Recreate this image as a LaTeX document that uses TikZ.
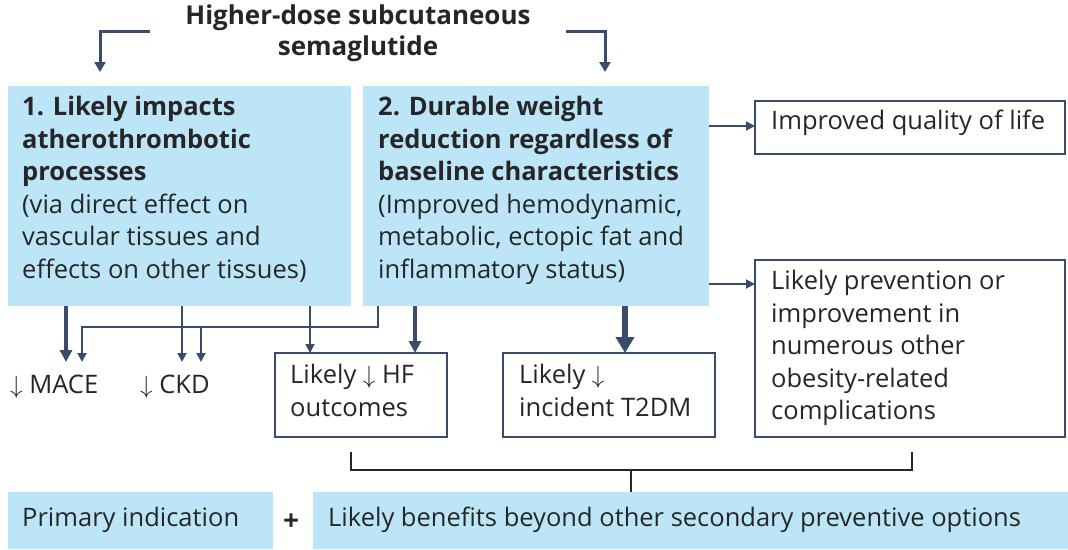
\documentclass[tikz,border=0pt]{standalone}
\usepackage{fontspec}
\setmainfont{Open Sans}
\usetikzlibrary{arrows.meta}
\definecolor{lb}{HTML}{BDE5F8}
\definecolor{dk}{HTML}{3B4B6B}
\begin{document}
\begin{tikzpicture}[x=1pt,y=-1pt,
 blue/.style={fill=lb,draw=none,inner sep=0pt},
 wbox/.style={draw=dk,line width=1.6pt,fill=white},
 txt/.style={font=\fontsize{25.5}{32.5}\selectfont,align=left,anchor=north west,inner sep=0pt,text=black!85},
 ln/.style={draw=dk,line width=1.8pt},
 ar/.style={ln,-{Triangle[length=9pt,width=9pt]}},
 tar/.style={draw=dk,line width=4pt,-{Triangle[length=12pt,width=12pt]}},
 ttar/.style={draw=dk,line width=6pt,-{Triangle[length=16pt,width=18pt]}}]
\useasboundingbox (0,0) rectangle (1068,549);
\node[font=\fontsize{26}{31}\selectfont\bfseries,align=center,text=black!85] (title) at (358,33) {Higher-dose subcutaneous\\semaglutide};
\coordinate (tl) at (150,31); \coordinate (tr) at (566,31);
\draw[ln,line width=3pt,-{Triangle[length=10pt,width=11pt]}] (tl) -| (100,72);
\draw[ln,line width=3pt,-{Triangle[length=10pt,width=11pt]}] (tr) -| (605,72);
\path[blue] (8,86) rectangle (351,306);
\path[blue] (363,86) rectangle (709,306);
\node[txt] at (22,96) {\textbf{1. Likely impacts}\\\textbf{atherothrombotic}\\\textbf{processes}\\(via direct effect on\\vascular tissues and\\effects on other tissues)};
\node[txt] at (378,96) {\textbf{2. Durable weight}\\\textbf{reduction regardless of}\\\textbf{baseline characteristics}\\(Improved hemodynamic,\\metabolic, ectopic fat and\\inflammatory status)};
\path[wbox] (755,101) rectangle (1065,154);
\node[txt] (ql) at (771,110) {Improved quality of life};
\path[wbox] (755,260) rectangle (1065,437);
\node[txt] (lp) at (771,270) {Likely prevention or\\improvement in\\numerous other\\obesity-related\\complications};
\path[wbox] (275,353) rectangle (447,437);
\node[txt] (hf) at (290,364) {Likely $\downarrow$ HF\\outcomes};
\path[wbox] (503,353) rectangle (715,437);
\node[txt] (t2) at (519,364) {Likely $\downarrow$\\incident T2DM};
\node[txt] (mace) at (10,375) {$\downarrow$ MACE};
\node[txt] (ckd) at (140,375) {$\downarrow$ CKD};
\draw[ar] (709,126) -- (755,126);
\draw[ar] (709,284) -- (755,284);
\draw[tar] (66,306) -- (66,362);
\draw[ar] (378,306) -- (378,327) -- (82,327) -- (82,362);
\draw[ar] (182,306) -- (182,362);
\draw[ar] (201,327) -- (201,362);
\draw[ar] (310,306) -- (310,353);
\draw[tar] (415,306) -- (415,353);
\draw[ttar] (625,306) -- (625,353);
\draw[line width=1.8pt,black!85] (351,452) -- (351,470) -- (912,470) -- (912,452);
\draw[line width=1.8pt,black!85] (631,470) -- (631,492);
\path[blue] (8,492) rectangle (273,549);
\node[txt,anchor=west] at (22,520) {Primary indication};
\node[font=\fontsize{28}{28}\selectfont\bfseries,text=black!85] at (291,522) {+};
\path[blue] (313,492) rectangle (1068,549);
\node[txt,anchor=west] at (328,520) {Likely benefits beyond other secondary preventive options};
\end{tikzpicture}
\end{document}
